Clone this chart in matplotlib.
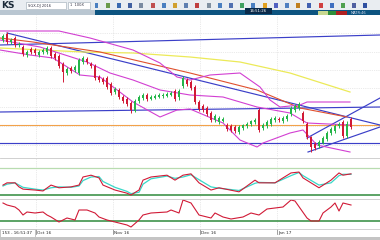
import matplotlib
matplotlib.use("Agg")
import matplotlib.pyplot as plt
from matplotlib.patches import Rectangle

# ---------------- data ----------------
opens = [120,126,118,122,115,113,105,111,110,105,108,108,112,106,104,96,87,92,90,87,
         98,101,96,94,83,81,82,76,68,70,63,61,57,49,59,62,65,61,62,63,
         64,64,65,69,63,74,80,78,73,58,54,52,47,40,38,39,35,34,33,28,
         32,34,36,38,50,32,34,36,40,41,39,41,46,50,52,47,36,23,16,14,
         17,21,27,29,34,38,24,41]
closes = [124,118,120,115,116,106,108,108,107,108,110,112,104,102,94,88,91,89,93,100,
          102,98,94,82,80,78,73,67,71,63,59,56,50,59,63,65,61,63,64,65,
          65,66,67,61,69,82,76,72,58,51,50,46,40,44,42,41,31,30,29,33,
          35,36,39,40,30,35,38,41,42,40,42,44,52,54,56,39,23,13,12,18,
          22,27,31,34,36,24,36,33]
highs = [126,128,122,124,118,115,110,113,112,110,112,114,114,108,106,98,93,94,95,102,
         104,103,98,96,85,83,84,78,73,72,65,63,59,61,65,67,67,65,66,67,
         67,68,69,71,71,84,82,80,75,60,56,54,49,46,44,43,37,36,35,35,
         36,38,40,42,52,37,40,43,44,43,44,46,54,56,58,49,38,24,18,20,
         24,29,33,36,38,40,39,43]
lows = [118,116,116,113,113,104,103,106,105,103,106,106,102,100,92,78,85,87,88,85,
        96,96,92,80,78,76,71,65,66,61,57,54,47,48,57,60,59,60,61,62,
        62,63,64,59,60,72,74,70,56,49,48,44,38,38,36,38,29,28,27,26,
        30,32,34,36,28,30,32,34,38,38,37,39,44,48,50,37,21,8,10,12,
        16,19,25,27,32,22,22,31]

# moving averages / bands (candle index, price)
ma_slow_x = [-0.75, 20, 32.5, 46.75, 59.25, 71.75, 86.75]
ma_slow_y = [112, 108, 107, 103, 98, 87, 68]
ma_fast_x = [-0.75, 7.5, 24.25, 46.75, 63.5, 74.25, 86]
ma_fast_y = [122, 118, 108, 87, 70, 52, 43]
bb_up_x = [-0.75, 14, 21.75, 32.5, 39.25, 43.5, 46.75, 51.75, 59.25, 64.25, 66.75, 69.25, 74.25, 76, 86.75]
bb_up_y = [129, 129, 122, 110, 97, 83, 80, 85, 87, 73, 60, 53, 55, 58, 58]
bb_mid_x = [-0.75, 9.25, 21, 26.75, 32.5, 39.25, 46.75, 55, 63.5, 71.75, 76, 86.75]
bb_mid_y = [120, 113, 98, 87, 80, 70, 65, 63, 53, 47, 37, 35]
bb_low_x = [-0.75, 6.75, 12.5, 19.25, 24.25, 32.5, 39.25, 43.5, 46.75, 55, 59.25, 63.5, 65, 71.75, 75, 78.5, 86.75]
bb_low_y = [110, 105, 102, 85, 83, 58, 43, 50, 51, 37, 20, 13, 17, 27, 30, 15, 8]

# drawn trend lines (start idx, start price, end idx, end price)
trend_lines = [
    (-0.75, 115, 94.25, 125),   # upper resistance
    (1.0, 127, 94.25, 35),      # long falling line
    (-0.75, 48, 94.25, 53),     # middle horizontal
    (-0.75, 17, 94.25, 17),     # lower horizontal
    (76.0, 22, 94.25, 62),      # rising channel top
    (76.25, 8, 94.25, 33),      # rising channel bottom
]
orange_level = 35

# stochastic (candle index, value)
stoch_x = [0,1,3,4,5,8,10,12,14,17,19,20,22,24,25,28,31,32,34,35,37,41,43,45,47,49,52,54,59,63,64,68,72,74,75,79,82,84,85,87]
stoch_k = [42,47,47,38,33,31,29,42,36,38,42,60,64,58,42,31,24,20,31,53,60,64,53,64,67,47,31,36,27,53,47,47,69,71,58,36,53,69,64,67]
stoch_d = [40,44,47,42,37,33,31,36,38,37,40,52,60,61,50,37,28,23,26,44,56,62,57,60,65,54,38,35,30,46,48,47,63,70,63,42,47,63,66,66]

# RSI (candle index, value)
rsi_x = [0,1,3,4,5,6,8,10,11,12,14,16,18,19,21,23,24,26,28,31,32,34,35,37,41,42,44,45,47,49,52,53,55,57,60,62,64,66,68,70,72,73,76,77,79,80,82,83,84,85,87]
rsi_y = [48,46,44,41,36,39,38,39,36,34,29,33,31,41,41,38,34,31,29,26,24,31,36,38,39,41,38,51,48,36,33,38,34,32,34,38,36,42,43,44,51,50,33,30,30,38,44,48,40,48,46]

date_pos = [8.25, 27.5, 49.25, 68.5]
date_labels = ["Oct 16", "Nov 16", "Dec 16", "Jan 17"]

# ---------------- figure ----------------
W, H = 380, 240
fig = plt.figure(figsize=(W / 100, H / 100), dpi=100)
fig.patch.set_facecolor("white")


def rect(x0, y0, x1, y1):
    return [x0 / W, 1 - y1 / H, (x1 - x0) / W, (y1 - y0) / H]


def frect(x0, y0, x1, y1, color, **kw):
    fig.patches.append(Rectangle((x0 / W, 1 - y1 / H), (x1 - x0) / W, (y1 - y0) / H,
                                 transform=fig.transFigure, facecolor=color,
                                 edgecolor=kw.get("ec", "none"), lw=kw.get("lw", 0)))


# header / toolbar
frect(0, 0, 380, 10, "#e9edf1")
frect(0, 10, 95, 15, "#b9c6d1")
frect(95, 10, 380, 15, "#0d5480")
frect(26, 2, 66, 9, "white", ec="#9aa7b3", lw=0.4)
frect(68, 2, 90, 9, "white", ec="#9aa7b3", lw=0.4)
fig.text(1 / W, 1 - 5.5 / H, "KS", fontsize=6.5, fontweight="bold", color="#1c2b3a", va="center")
fig.text(28 / W, 1 - 5.5 / H, "SGX-DJ 2016", fontsize=2.6, color="#334", va="center")
fig.text(70 / W, 1 - 5.5 / H, "1  100X", fontsize=2.6, color="#334", va="center")
icon_cols = ["#4a7fc0", "#6a9a4a", "#3a6ab0", "#4060a0", "#7a8aa0", "#c05050", "#4a7fc0",
             "#d0a030", "#6080b0", "#c04040", "#8090a0", "#4a7fc0", "#5070b0", "#40a060",
             "#4a7fc0", "#e0a020", "#5060c0", "#5080c0", "#c08020", "#4060b0", "#d04040",
             "#4070c0", "#50a050", "#5060a0", "#3050a0"]
for k, c in enumerate(icon_cols):
    x = 94 + k * 11.2
    frect(x + 0.5, 3.5, x + 4.5, 7.5, c)
frect(245, 8, 272, 14, "#0a2a4a")
fig.text(258.5 / W, 1 - 11 / H, "16:51:26", fontsize=2.8, color="white", ha="center", va="center")
frect(318, 11, 328, 14.5, "#c8d890")
frect(328, 11, 336, 14.5, "#2f8f3a")
frect(336, 11, 347, 14.5, "#b02020")
fig.text(351 / W, 1 - 12.8 / H, "MATR:46", fontsize=2.6, color="#dde", va="center")

RED = "#d11a36"
GREEN = "#25b54a"
BLUE = "#3b3fc8"
MAG = "#d23fd2"
XL = (-0.75, 94.25)

# main price panel
ax = fig.add_axes(rect(0, 15, 380, 157))
ax.set_xlim(*XL)
ax.set_ylim(3, 145)
ax.set_yticks([15, 34, 53, 72, 90, 108, 127])
ax.set_xticks(date_pos)
ax.grid(True, color="#d6d6d6", lw=0.5, ls=":")
ax.tick_params(left=False, bottom=False, labelleft=False, labelbottom=False)
for s in ax.spines.values():
    s.set_visible(False)

ax.axhline(orange_level, color="#f2a24a", lw=0.8, zorder=2)
for x0, y0, x1, y1 in trend_lines:
    ax.plot([x0, x1], [y0, y1], color=BLUE, lw=0.85, zorder=2)
ax.plot(ma_slow_x, ma_slow_y, color="#ecea58", lw=0.9, zorder=2)
ax.plot(ma_fast_x, ma_fast_y, color="#e0502e", lw=0.8, zorder=2)
ax.plot(bb_up_x, bb_up_y, color=MAG, lw=0.8, zorder=2)
ax.plot(bb_mid_x, bb_mid_y, color=MAG, lw=0.8, zorder=2)
ax.plot(bb_low_x, bb_low_y, color=MAG, lw=0.8, zorder=2)

for i, (o, c, h, l) in enumerate(zip(opens, closes, highs, lows)):
    col = GREEN if c >= o else RED
    ax.vlines(i, l, h, color=col, lw=0.7, zorder=3)
    ax.bar(i, abs(c - o) if c != o else 0.8, bottom=min(o, c), width=0.72,
           color=col, zorder=4, linewidth=0)

# stochastic panel
ax2 = fig.add_axes(rect(0, 158, 380, 198))
ax2.set_xlim(*XL)
ax2.set_ylim(13.3, 102.2)
ax2.set_xticks(date_pos)
ax2.set_yticks([])
ax2.grid(True, axis="x", color="#d6d6d6", lw=0.5, ls=":")
ax2.tick_params(left=False, bottom=False, labelleft=False, labelbottom=False)
for s in ax2.spines.values():
    s.set_visible(False)
ax2.axhline(80, color="#b8dcb0", lw=0.9)
ax2.axhline(20, color="#2f8a3c", lw=1.1)
ax2.plot(stoch_x, stoch_d, color="#38d8c8", lw=0.9)
ax2.plot(stoch_x, stoch_k, color=RED, lw=0.8)

# RSI panel
ax3 = fig.add_axes(rect(0, 199, 380, 228))
ax3.set_xlim(*XL)
ax3.set_ylim(23, 52)
ax3.set_xticks(date_pos)
ax3.set_yticks([])
ax3.grid(True, axis="x", color="#d6d6d6", lw=0.5, ls=":")
ax3.tick_params(left=False, bottom=False, labelleft=False, labelbottom=False)
for s in ax3.spines.values():
    s.set_visible(False)
ax3.axhline(30, color="#2f8a3c", lw=1.1)
ax3.plot(rsi_x, rsi_y, color=RED, lw=0.8)

# separators
for yy in (157.5, 198.5, 228.5):
    fig.add_artist(plt.Line2D([0, 1], [1 - yy / H, 1 - yy / H], color="#c9c9c9", lw=0.6))

# date axis
ax4 = fig.add_axes(rect(0, 229, 380, 237))
ax4.set_xlim(*XL)
ax4.set_ylim(0, 1)
ax4.set_yticks([])
ax4.set_xticks([])
for s in ax4.spines.values():
    s.set_visible(False)
for p, lab in zip(date_pos, date_labels):
    ax4.plot([p, p], [0.35, 1], color="#777", lw=0.5)
    ax4.text(p + 0.3, 0.45, lab, fontsize=3.2, color="#333", va="center", ha="left")
frect(0, 229, 35, 236.5, "white", ec="#999", lw=0.4)
fig.text(1.5 / W, 1 - 233 / H, "153 - 16:51:37", fontsize=3.0, color="#222", va="center")
frect(0, 237, 380, 240, "#c4c4c4")

fig.savefig("out.png", dpi=100)
